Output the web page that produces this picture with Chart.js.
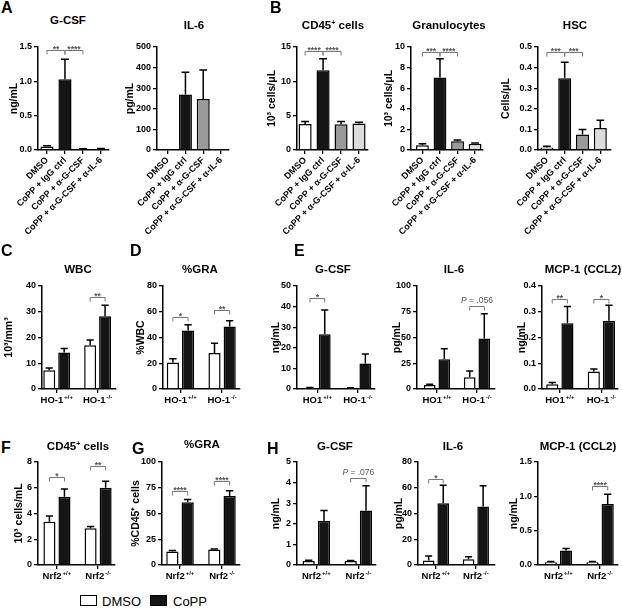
<!DOCTYPE html>
<html>
<head>
<meta charset="utf-8">
<script src="https://cdn.jsdelivr.net/npm/chart.js@4.4.1/dist/chart.umd.min.js"></script>
<style>
  body { margin: 0; background: #fff; }
  #fig { position: relative; width: 622px; height: 612px; overflow: hidden; background: #fff;
         font-family: "Liberation Sans", Arial, sans-serif; color: #000; }
  #fig canvas { position: absolute; }
  .letter { position: absolute; font-weight: bold; font-size: 16px; line-height: 16px; }
  .title { position: absolute; font-weight: bold; font-size: 11.5px; white-space: nowrap;
           transform: translate(-50%, -50%); }
  .title sup { font-size: 7px; vertical-align: 4px; line-height: 0; }
  .legend { position: absolute; font-size: 13px; line-height: 13px; }
  .box { position: absolute; width: 15px; height: 9px; border: 1.5px solid #000; }
</style>
</head>
<body>
<div id="fig"></div>
<script>
// ---- data ----
const treatGroups = ["DMSO", "CoPP + IgG ctrl", "CoPP + α-G-CSF", "CoPP + α-G-CSF + α-IL-6"];
const treatColors = ["#ffffff", "#151515", "#9a9a9a", "#dcdcdc"];
const hoGenos = ["HO-1^+/+", "HO-1^-/-"];
const hoGenosE = ["HO1^+/+", "HO-1^-/-"];
const nrfGenos = ["Nrf2^+/+", "Nrf2^-/-"];

// A
const gcsfA = [0.05, 1.03, 0.015, 0.015];
const gcsfAErr = [0.012, 0.29, 0.004, 0.006];
const gcsfATicks = ["0.0", "0.5", "1.0", "1.5"];
const il6A = [0, 270, 248, 0];
const il6AErr = [0, 108, 140, 0];
const il6ATicks = ["0", "100", "200", "300", "400", "500"];
// B
const cd45B = [3.8, 11.6, 3.75, 3.85];
const cd45BErr = [0.35, 1.7, 0.4, 0.2];
const cd45BTicks = ["0", "5", "10", "15"];
const granB = [0.45, 7.05, 0.85, 0.6];
const granBErr = [0.15, 1.8, 0.12, 0.08];
const granBTicks = ["0", "2", "4", "6", "8", "10"];
const hscB = [0.012, 0.348, 0.075, 0.107];
const hscBErr = [0.006, 0.078, 0.024, 0.038];
const hscBTicks = ["0.0", "0.1", "0.2", "0.3", "0.4", "0.5"];
// C
const wbcDmso = [7.3, 17], wbcDmsoErr = [0.9, 2];
const wbcCopp = [14.2, 28.3], wbcCoppErr = [1.5, 4.2];
const wbcTicks = ["0", "10", "20", "30", "40"];
// D
const graDDmso = [20.5, 28], graDDmsoErr = [3, 7.5];
const graDCopp = [45.5, 48.5], graDCoppErr = [4.5, 4.5];
const graDTicks = ["0", "20", "40", "60", "80"];
// E
const gcsfEDmso = [0.6, 0.5], gcsfEDmsoErr = [0.1, 0.1];
const gcsfECopp = [26.6, 12.4], gcsfECoppErr = [11.8, 4.6];
const gcsfETicks = ["0", "10", "20", "30", "40", "50"];
const il6EDmso = [4, 11.5], il6EDmsoErr = [0.6, 6];
const il6ECopp = [29, 49], il6ECoppErr = [10, 24];
const il6ETicks = ["0", "25", "50", "75", "100"];
const mcpEDmso = [0.018, 0.068], mcpEDmsoErr = [0.007, 0.01];
const mcpECopp = [0.255, 0.265], mcpECoppErr = [0.065, 0.06];
const mcpETicks = ["0.0", "0.1", "0.2", "0.3", "0.4"];
// F
const cd45FDmso = [3.35, 2.85], cd45FDmsoErr = [0.45, 0.15];
const cd45FCopp = [5.3, 6.0], cd45FCoppErr = [0.6, 0.5];
const cd45FTicks = ["0", "2", "4", "6", "8"];
// G
const graGDmso = [13, 15], graGDmsoErr = [1, 0.5];
const graGCopp = [61, 67], graGCoppErr = [2.5, 5];
const graGTicks = ["0", "25", "50", "75", "100"];
// H
const gcsfHDmso = [0.2, 0.2], gcsfHDmsoErr = [0.03, 0.02];
const gcsfHCopp = [2.15, 2.65], gcsfHCoppErr = [0.5, 1.2];
const gcsfHTicks = ["0", "1", "2", "3", "4", "5"];
const il6HDmso = [3.5, 4.5], il6HDmsoErr = [3.5, 2];
const il6HCopp = [48, 45.5], il6HCoppErr = [14, 16];
const il6HTicks = ["0", "20", "40", "60", "80"];
const mcpHDmso = [0.04, 0.04], mcpHDmsoErr = [0.01, 0.01];
const mcpHCopp = [0.21, 0.89], mcpHCoppErr = [0.03, 0.14];
const mcpHTicks = ["0.0", "0.5", "1.0", "1.5"];

const FONT = '"Liberation Sans", Arial, sans-serif';
Chart.defaults.font.family = FONT;
const fig = document.getElementById("fig");

// brackets: treat -> between bars i and j; geno -> DMSO vs CoPP in group g
const tb = (i, j, y, t) => ({ a: [0, i], b: [0, j], y, t });
const gb = (g, y, t) => ({ a: [0, g], b: [1, g], y, t });
const treat = (v, e) => [{ v, e, color: treatColors }];
const geno = (dv, de, cv, ce) => [{ v: dv, e: de, color: "#ffffff" }, { v: cv, e: ce, color: "#151515" }];

const specs = [
  { kind: "treat", rect: [38, 47, 109, 150], xr: [0.5, 4.45], yw: 30, cats: treatGroups, ticks: gcsfATicks,
    ylabel: "ng/mL", series: treat(gcsfA, gcsfAErr), sig: [tb(0, 1, 1.45, "**"), tb(1, 2, 1.45, "****")] },
  { kind: "treat", rect: [157, 47, 229, 150], xr: [0.4, 4.45], yw: 33, cats: treatGroups, ticks: il6ATicks,
    ylabel: "pg/mL", series: treat(il6A, il6AErr), sig: [] },
  { kind: "treat", rect: [297, 47, 368, 150], xr: [0.55, 4.5], yw: 31, cats: treatGroups, ticks: cd45BTicks,
    ylabel: "10³ cells/μL", series: treat(cd45B, cd45BErr), sig: [tb(0, 1, 14.4, "****"), tb(1, 2, 14.4, "****")] },
  { kind: "treat", rect: [411, 47, 483, 150], xr: [0.35, 4.45], yw: 28, cats: treatGroups, ticks: granBTicks,
    ylabel: "10³ cells/μL", series: treat(granB, granBErr), sig: [tb(0, 1, 9.5, "***"), tb(1, 2, 9.5, "****")] },
  { kind: "treat", rect: [538, 47, 611, 150], xr: [0.5, 4.6], yw: 38, cats: treatGroups, ticks: hscBTicks,
    ylabel: "Cells/μL", series: treat(hscB, hscBErr), sig: [tb(0, 1, 0.475, "***"), tb(1, 2, 0.475, "***")] },

  { kind: "geno", rect: [42, 286, 116, 389], xr: [0.64, 2.45], yw: 39, cats: hoGenos, ticks: wbcTicks,
    ylabel: "10³/mm³", series: geno(wbcDmso, wbcDmsoErr, wbcCopp, wbcCoppErr), sig: [gb(1, 35.8, "**")] },
  { kind: "geno", rect: [163, 286, 240, 389], xr: [0.58, 2.43], yw: 28, cats: hoGenos, ticks: graDTicks,
    ylabel: "%WBC", series: geno(graDDmso, graDDmsoErr, graDCopp, graDCoppErr), sig: [gb(0, 56, "*"), gb(1, 61.5, "**")] },
  { kind: "geno", rect: [297, 286, 375, 389], xr: [0.5, 2.42], yw: 27, cats: hoGenosE, ticks: gcsfETicks,
    ylabel: "ng/mL", series: geno(gcsfEDmso, gcsfEDmsoErr, gcsfECopp, gcsfECoppErr), sig: [gb(0, 44, "*")] },
  { kind: "geno", rect: [417, 286, 495, 389], xr: [0.5, 2.45], yw: 26, cats: hoGenosE, ticks: il6ETicks,
    ylabel: "pg/mL", series: geno(il6EDmso, il6EDmsoErr, il6ECopp, il6ECoppErr), sig: [gb(1, 80.6, "P = .056")] },
  { kind: "geno", rect: [542, 286, 618, 389], xr: [0.57, 2.4], yw: 26, cats: hoGenosE, ticks: mcpETicks,
    ylabel: "ng/mL", series: geno(mcpEDmso, mcpEDmsoErr, mcpECopp, mcpECoppErr), sig: [gb(0, 0.35, "**"), gb(1, 0.35, "*")] },

  { kind: "geno", rect: [38, 462, 115, 565], xr: [0.54, 2.41], yw: 25, cats: nrfGenos, ticks: cd45FTicks,
    ylabel: "10³ cells/mL", series: geno(cd45FDmso, cd45FDmsoErr, cd45FCopp, cd45FCoppErr), sig: [gb(0, 6.8, "*"), gb(1, 7.7, "**")] },
  { kind: "geno", rect: [162, 462, 240, 565], xr: [0.57, 2.43], yw: 32, cats: nrfGenos, ticks: graGTicks,
    ylabel: "%CD45⁺ cells", series: geno(graGDmso, graGDmsoErr, graGCopp, graGCoppErr), sig: [gb(0, 72, "****"), gb(1, 81.5, "****")] },
  { kind: "geno", rect: [297, 462, 376, 565], xr: [0.54, 2.42], yw: 27, cats: nrfGenos, ticks: gcsfHTicks,
    ylabel: "ng/mL", series: geno(gcsfHDmso, gcsfHDmsoErr, gcsfHCopp, gcsfHCoppErr), sig: [gb(1, 4.2, "P = .076")] },
  { kind: "geno", rect: [418, 462, 495, 565], xr: [0.55, 2.48], yw: 25, cats: nrfGenos, ticks: il6HTicks,
    ylabel: "pg/mL", series: geno(il6HDmso, il6HDmsoErr, il6HCopp, il6HCoppErr), sig: [gb(0, 67, "*")] },
  { kind: "geno", rect: [538, 462, 618, 565], xr: [0.51, 2.43], yw: 30, cats: nrfGenos, ticks: mcpHTicks,
    ylabel: "ng/mL", series: geno(mcpHDmso, mcpHDmsoErr, mcpHCopp, mcpHCoppErr), sig: [gb(1, 1.15, "****")] }
];

// upward SEM error bars
const errorBars = {
  id: "errorBars",
  afterDatasetsDraw(chart) {
    const ctx = chart.ctx, y = chart.scales.y;
    ctx.save();
    ctx.strokeStyle = "#000";
    ctx.lineWidth = 1.5;
    chart.data.datasets.forEach((ds, d) => {
      chart.getDatasetMeta(d).data.forEach((bar, i) => {
        if (!ds.errors[i]) return;
        const top = y.getPixelForValue(ds.data[i].y + ds.errors[i]);
        const half = bar.width * 0.3;
        ctx.beginPath();
        ctx.moveTo(bar.x, bar.y);
        ctx.lineTo(bar.x, top);
        ctx.moveTo(bar.x - half, top);
        ctx.lineTo(bar.x + half, top);
        ctx.stroke();
      });
    });
    ctx.restore();
  }
};

// significance brackets
const sigBrackets = {
  id: "sigBrackets",
  afterDatasetsDraw(chart) {
    const spec = chart.canvas._spec, ctx = chart.ctx;
    spec.sig.forEach(m => {
      const xa = chart.getDatasetMeta(m.a[0]).data[m.a[1]].x;
      const xb = chart.getDatasetMeta(m.b[0]).data[m.b[1]].x;
      const yy = Math.round(chart.scales.y.getPixelForValue(m.y)) + 0.5;
      ctx.save();
      ctx.strokeStyle = "#777";
      ctx.lineWidth = 1;
      ctx.beginPath();
      ctx.moveTo(xa, yy + 4);
      ctx.lineTo(xa, yy);
      ctx.lineTo(xb, yy);
      ctx.lineTo(xb, yy + 4);
      ctx.stroke();
      ctx.fillStyle = "#555";
      const cx = (xa + xb) / 2;
      ctx.textBaseline = "alphabetic";
      if (m.t.startsWith("P")) {
        const rest = m.t.slice(1);
        ctx.font = "italic 8.5px " + FONT;
        const w1 = ctx.measureText("P").width;
        ctx.font = "8.5px " + FONT;
        const w2 = ctx.measureText(rest).width;
        const x0 = cx - (w1 + w2) / 2;
        ctx.textAlign = "left";
        ctx.font = "italic 8.5px " + FONT;
        ctx.fillText("P", x0, yy - 4);
        ctx.font = "8.5px " + FONT;
        ctx.fillText(rest, x0 + w1, yy - 4);
      } else {
        ctx.font = "bold 8.5px " + FONT;
        ctx.textAlign = "center";
        ctx.fillText(m.t, cx, yy + 1.5);
      }
      ctx.restore();
    });
  }
};

// genotype labels with superscripts
const genoLabels = {
  id: "genoLabels",
  afterDraw(chart) {
    const spec = chart.canvas._spec;
    if (spec.kind !== "geno") return;
    const ctx = chart.ctx, x = chart.scales.x;
    ctx.save();
    ctx.fillStyle = "#000";
    ctx.textBaseline = "alphabetic";
    ctx.textAlign = "left";
    spec.cats.forEach((c, i) => {
      const [base, sup] = c.split("^");
      ctx.font = "bold 9.5px " + FONT;
      const wb = ctx.measureText(base).width;
      ctx.font = "bold 6px " + FONT;
      const ws = ctx.measureText(sup).width;
      const px = x.getPixelForValue(i + 1) - (wb + ws + 1) / 2;
      const py = x.top + 14;
      ctx.font = "bold 9.5px " + FONT;
      ctx.fillText(base, px, py);
      ctx.font = "bold 6px " + FONT;
      ctx.fillText(sup, px + wb + 1, py - 4);
    });
    ctx.restore();
  }
};

function makeChart(spec) {
  const [L, T, R, B] = spec.rect;
  const padTop = 14, padRight = 10;
  const padLeft = spec.kind === "treat" ? 40 : 0;
  const xH = spec.kind === "treat" ? 96 : 22;
  const w = padLeft + spec.yw + (R - L) + padRight;
  const h = padTop + (B - T) + xH;
  const cv = document.createElement("canvas");
  cv.width = w;
  cv.height = h;
  cv.style.width = w + "px";
  cv.style.height = h + "px";
  cv.style.left = (L - spec.yw - padLeft) + "px";
  cv.style.top = (T - padTop) + "px";
  cv._spec = spec;
  fig.appendChild(cv);

  const ySteps = spec.ticks.map(parseFloat);
  const datasets = spec.series.map(s => ({
    data: s.v.map((v, i) => ({ x: i + 1, y: v })),
    errors: s.e,
    backgroundColor: s.color,
    borderColor: "#000",
    borderWidth: 1.5,
    categoryPercentage: spec.kind === "treat" ? 1 : 0.73,
    barPercentage: spec.kind === "treat" ? 0.73 : 0.8
  }));

  new Chart(cv, {
    type: "bar",
    data: { datasets },
    options: {
      responsive: false,
      animation: false,
      devicePixelRatio: 1,
      layout: { padding: { top: padTop, right: padRight, left: padLeft, bottom: 0 } },
      plugins: { legend: { display: false }, tooltip: { enabled: false } },
      scales: {
        x: {
          type: "linear",
          min: spec.xr[0],
          max: spec.xr[1],
          offset: false,
          afterBuildTicks: s => { s.ticks = spec.cats.map((c, i) => ({ value: i + 1 })); },
          afterFit: s => { s.height = xH; },
          grid: { display: true, offset: false, drawOnChartArea: false, drawTicks: true, tickLength: 4, color: "#000", lineWidth: 1.3 },
          border: { display: true, color: "#000", width: 1.5 },
          ticks: {
            display: spec.kind === "treat",
            autoSkip: false,
            minRotation: 45,
            maxRotation: 45,
            padding: 1,
            color: "#000",
            font: { size: 9, weight: "bold" },
            callback: v => spec.cats[Math.round(v) - 1]
          }
        },
        y: {
          type: "linear",
          min: ySteps[0],
          max: ySteps[ySteps.length - 1],
          afterBuildTicks: s => { s.ticks = ySteps.map(v => ({ value: v })); },
          afterFit: s => { s.width = spec.yw; },
          grid: { display: true, drawOnChartArea: false, drawTicks: true, tickLength: 4, color: "#000", lineWidth: 1.3 },
          border: { display: true, color: "#000", width: 1.5 },
          ticks: {
            padding: 2,
            color: "#000",
            font: { size: 9, weight: "bold" },
            callback: (v, i) => spec.ticks[i]
          },
          title: { display: true, text: spec.ylabel, color: "#000", padding: 0, font: { size: 10.5, weight: "bold" } }
        }
      }
    },
    plugins: [errorBars, sigBrackets, genoLabels]
  });
}

specs.forEach(makeChart);

// ---- text: panel letters, titles, legend ----
function addDiv(cls, html, x, y) {
  const el = document.createElement("div");
  el.className = cls;
  el.innerHTML = html;
  el.style.left = x + "px";
  el.style.top = y + "px";
  fig.appendChild(el);
  return el;
}

[["A", 1, 0], ["B", 270, 0], ["C", 1, 243], ["D", 130, 243], ["E", 294, 243],
 ["F", 1, 440], ["G", 132, 441], ["H", 267, 441]].forEach(l => addDiv("letter", l[0], l[1], l[2]));

[["G-CSF", 68, 20], ["IL-6", 194, 25], ["CD45<sup>+</sup> cells", 333, 25], ["Granulocytes", 449, 25], ["HSC", 575, 25],
 ["WBC", 78, 269], ["%GRA", 200, 269], ["G-CSF", 333, 269], ["IL-6", 454, 269], ["MCP-1 (CCL2)", 583, 269],
 ["CD45<sup>+</sup> cells", 78, 446], ["%GRA", 202, 444], ["G-CSF", 335, 446], ["IL-6", 453, 446], ["MCP-1 (CCL2)", 578, 446]
].forEach(t => addDiv("title", t[0], t[1], t[2]));

addDiv("box", "", 80, 595);
addDiv("legend", "DMSO", 102, 595);
addDiv("box", "", 150, 595).style.background = "#151515";
addDiv("legend", "CoPP", 173, 595);
</script>
</body>
</html>
